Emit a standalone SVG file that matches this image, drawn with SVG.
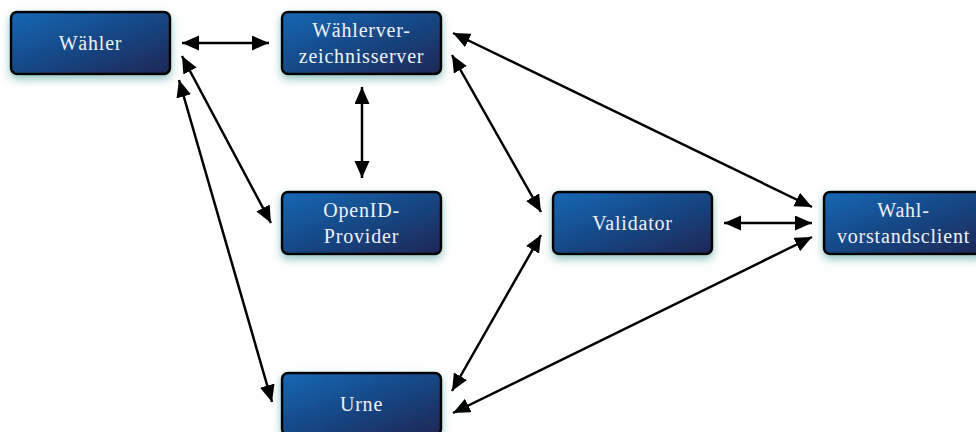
<svg xmlns="http://www.w3.org/2000/svg" width="976" height="432" viewBox="0 0 976 432">
  <defs>
    <linearGradient id="boxFill" x1="0" y1="0" x2="1" y2="1">
      <stop offset="0" stop-color="#1668b5"/>
      <stop offset="1" stop-color="#1b2755"/>
    </linearGradient>
    <filter id="glow" x="-20%" y="-30%" width="140%" height="170%">
      <feGaussianBlur in="SourceAlpha" stdDeviation="4" result="b"/>
      <feOffset in="b" dy="4" result="o"/>
      <feFlood flood-color="#6fb0b0" flood-opacity="0.75"/>
      <feComposite in2="o" operator="in" result="s"/>
      <feMerge>
        <feMergeNode in="s"/>
        <feMergeNode in="SourceGraphic"/>
      </feMerge>
    </filter>
    <marker id="head" markerUnits="userSpaceOnUse" markerWidth="18" markerHeight="16" refX="17" refY="7.5" orient="auto-start-reverse">
      <path d="M0,0 L17,7.5 L0,15 z" fill="#000"/>
    </marker>
  </defs>
  <style>
    .box { fill: url(#boxFill); stroke: #000; stroke-width: 2.5; filter: url(#glow); }
    .label { font-family: "Liberation Serif", "DejaVu Serif", serif; font-size: 20px; fill: #eef2f6; text-anchor: middle; letter-spacing: 0.8px; }
    .link { stroke: #000; stroke-width: 2.5; fill: none; marker-start: url(#head); marker-end: url(#head); }
  </style>

  <g id="connectors">
    <line class="link" x1="182" y1="43" x2="269" y2="43"/>
    <line class="link" x1="182" y1="56" x2="271" y2="223"/>
    <line class="link" x1="179" y1="80" x2="272" y2="402"/>
    <line class="link" x1="362" y1="87" x2="362" y2="178"/>
    <line class="link" x1="452" y1="55" x2="541" y2="212"/>
    <line class="link" x1="453" y1="33" x2="812" y2="207"/>
    <line class="link" x1="724" y1="223" x2="812" y2="223"/>
    <line class="link" x1="541" y1="235" x2="452" y2="391"/>
    <line class="link" x1="453" y1="413" x2="812" y2="237"/>
  </g>

  <g id="waehler">
    <rect class="box" x="11" y="12" width="159" height="62" rx="6"/>
    <text class="label" x="90.5" y="50">Wähler</text>
  </g>

  <g id="waehlerverzeichnisserver">
    <rect class="box" x="282" y="12" width="159" height="62" rx="6"/>
    <text class="label" x="361.5" y="37">Wählerver-</text>
    <text class="label" x="361.5" y="63">zeichnisserver</text>
  </g>

  <g id="openid-provider">
    <rect class="box" x="282" y="192" width="159" height="62" rx="6"/>
    <text class="label" x="361.5" y="217">OpenID-</text>
    <text class="label" x="361.5" y="243">Provider</text>
  </g>

  <g id="validator">
    <rect class="box" x="553" y="192" width="159" height="62" rx="6"/>
    <text class="label" x="632.5" y="230">Validator</text>
  </g>

  <g id="wahlvorstandsclient">
    <rect class="box" x="824" y="192" width="159" height="62" rx="6"/>
    <text class="label" x="903.5" y="217">Wahl-</text>
    <text class="label" x="903.5" y="243">vorstandsclient</text>
  </g>

  <g id="urne">
    <rect class="box" x="282" y="373" width="159" height="62" rx="6"/>
    <text class="label" x="361.5" y="411">Urne</text>
  </g>
</svg>
